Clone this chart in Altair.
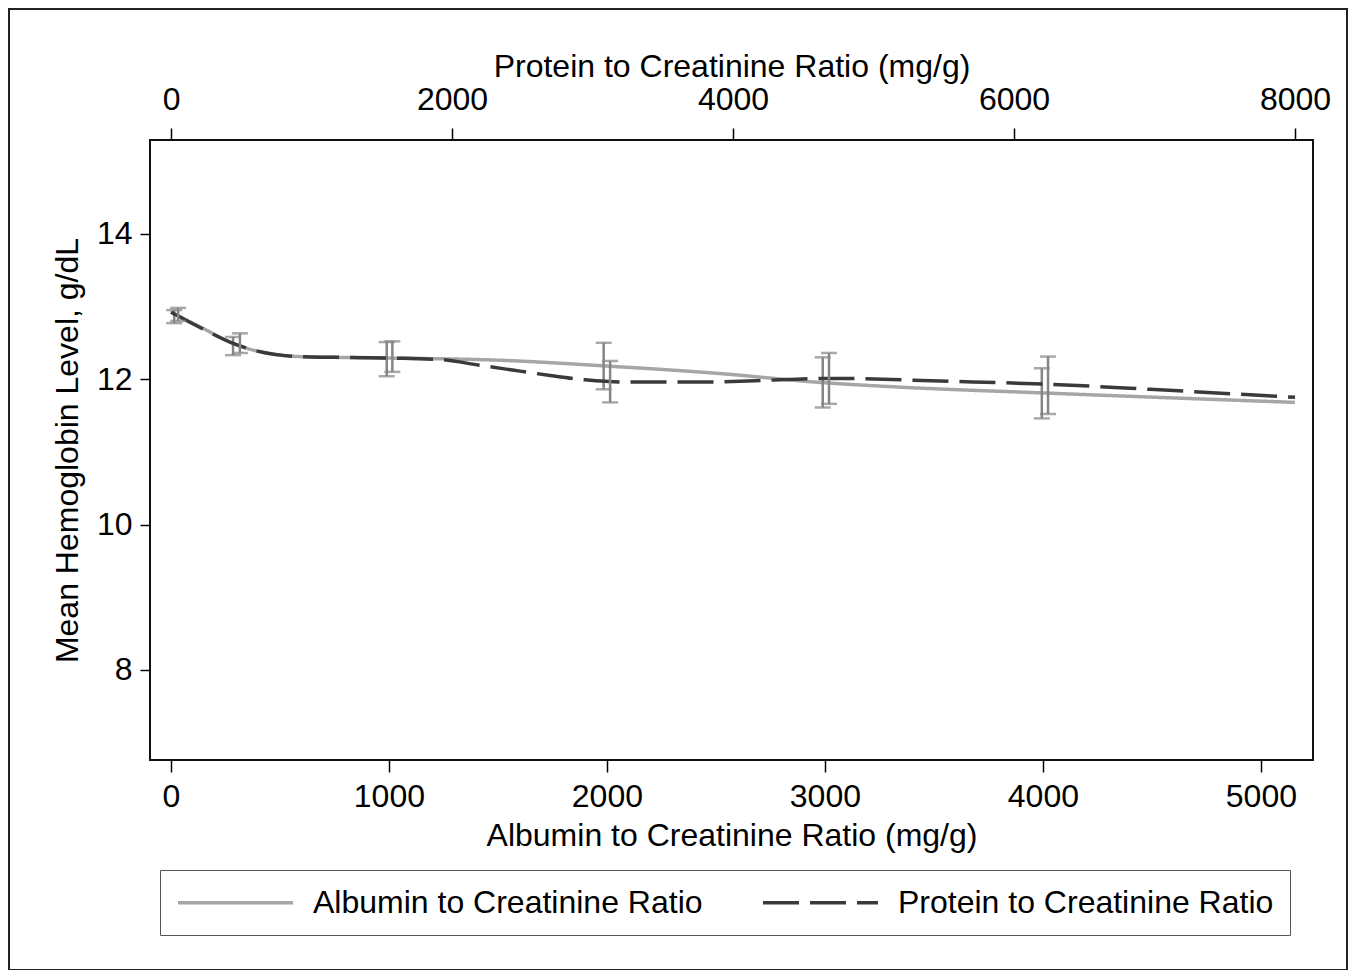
import altair as alt
import pandas as pd

SERIES = ["Albumin to Creatinine Ratio", "Protein to Creatinine Ratio"]

# Smoothed curves
acr_x = [0, 133, 303, 592, 1000, 1509, 2000, 2505, 3000, 3344, 4000, 5156]
acr_y = [12.92, 12.72, 12.47, 12.31, 12.29, 12.26, 12.18, 12.08, 11.95, 11.89, 11.81, 11.68]
pro_x = [0, 206, 470, 918, 1552, 1915, 2199, 2484, 2698, 2947, 3196, 3765, 4335, 4690, 5544, 6242, 6968, 8000]
pro_y = [12.92, 12.71, 12.47, 12.31, 12.29, 12.27, 12.19, 12.11, 12.05, 11.99, 11.96, 11.96, 11.99, 12.01, 11.97, 11.93, 11.86, 11.75]

# Error bars (95% CI)
acr_err_x = [15, 285, 990, 1985, 2990, 3995]
acr_lo = [12.77, 12.33, 12.04, 11.86, 11.61, 11.46]
acr_hi = [12.95, 12.58, 12.51, 12.50, 12.30, 12.15]
pro_err_x = [50, 490, 1575, 3125, 4683, 6242]
pro_lo = [12.80, 12.36, 12.10, 11.68, 11.66, 11.52]
pro_hi = [12.98, 12.63, 12.52, 12.25, 12.36, 12.31]

FONT = "Liberation Sans"
FS = 32

acr_df = pd.DataFrame({"x": acr_x, "y": acr_y, "series": SERIES[0]})
pro_df = pd.DataFrame({"x": pro_x, "y": pro_y, "series": SERIES[1]})
acr_err = pd.DataFrame({"x": acr_err_x, "lo": acr_lo, "hi": acr_hi})
pro_err = pd.DataFrame({"x": pro_err_x, "lo": pro_lo, "hi": pro_hi})

yscale = alt.Scale(domain=[6.76, 15.29], nice=False, zero=False)
yaxis = alt.Axis(values=[8, 10, 12, 14], format="d", title="Mean Hemoglobin Level, g/dL",
                 tickSize=10, labelPadding=8, titlePadding=12)

color = alt.Color("series:N", scale=alt.Scale(domain=SERIES, range=["#a6a6a6", "#3a3a3a"]),
                  legend=alt.Legend(title=None))
dash = alt.StrokeDash("series:N", scale=alt.Scale(domain=SERIES, range=[[1, 0], [36, 11]]),
                      legend=alt.Legend(title=None))

acr_xs = alt.Scale(domain=[-96, 5239], nice=False, zero=False)
pro_xs = alt.Scale(domain=[-150, 8128], nice=False, zero=False)
acr_ax = alt.Axis(orient="bottom", values=[0, 1000, 2000, 3000, 4000, 5000], format="d",
                  title="Albumin to Creatinine Ratio (mg/g)", tickSize=12, labelPadding=9, titlePadding=8)
pro_ax = alt.Axis(orient="top", values=[0, 2000, 4000, 6000, 8000], format="d",
                  title="Protein to Creatinine Ratio (mg/g)", tickSize=12, labelPadding=12, titlePadding=0)

ERR_COLOR = "#858585"


def group(line_df, err_df, xs, ax):
    line = alt.Chart(line_df).mark_line(interpolate="monotone", strokeWidth=3.5).encode(
        x=alt.X("x:Q", scale=xs, axis=ax),
        y=alt.Y("y:Q", scale=yscale, axis=yaxis),
        color=color,
        strokeDash=dash,
    )
    base = alt.Chart(err_df)
    rule = base.mark_rule(color=ERR_COLOR, strokeWidth=2.5).encode(
        x=alt.X("x:Q", scale=xs), y=alt.Y("lo:Q", scale=yscale), y2="hi:Q")
    cap_lo = base.mark_tick(color=ERR_COLOR, orient="horizontal", size=16, thickness=2.5).encode(
        x=alt.X("x:Q", scale=xs), y=alt.Y("lo:Q", scale=yscale))
    cap_hi = base.mark_tick(color=ERR_COLOR, orient="horizontal", size=16, thickness=2.5).encode(
        x=alt.X("x:Q", scale=xs), y=alt.Y("hi:Q", scale=yscale))
    return alt.layer(line, rule, cap_lo, cap_hi)


acr = group(acr_df, acr_err, acr_xs, acr_ax)
pro = group(pro_df, pro_err, pro_xs, pro_ax)

border = alt.Chart(pd.DataFrame({"a": [0]})).mark_rect(
    fillOpacity=0, stroke="#222222", strokeWidth=2).encode(
    x=alt.value(-141), x2=alt.value(1197), y=alt.value(-131), y2=alt.value(830))

chart = alt.layer(acr, pro, border).resolve_scale(x="independent").resolve_axis(x="independent").properties(
    width=1163, height=620,
    autosize=alt.AutoSizeParams(type="none"),
    padding={"left": 142, "top": 132, "right": 36, "bottom": 210},
    background="white",
).configure_view(stroke="#111111", strokeWidth=2).configure_axis(
    labelFont=FONT, titleFont=FONT, labelFontSize=FS, titleFontSize=FS,
    labelColor="black", titleColor="black", titleFontWeight="normal",
    tickColor="black", tickWidth=1.5, domain=False, grid=False,
).configure_legend(
    orient="none", legendX=10, legendY=730, direction="horizontal", columns=2,
    labelFont=FONT, labelFontSize=FS, labelColor="black", labelLimit=600,
    symbolType="M-4,0H4", symbolSize=827, symbolStrokeWidth=3.5,
    symbolOffset=43, labelOffset=61,
    columnPadding=52, padding=16, strokeColor="#555555", fillColor="white",
)

chart.save("out.html", embed_options={"renderer": "svg", "actions": False})
